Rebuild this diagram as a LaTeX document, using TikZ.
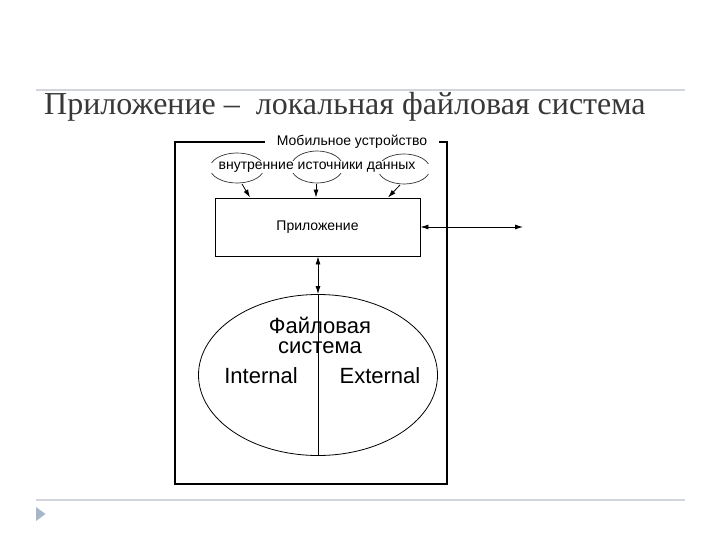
\documentclass[tikz,border=0pt]{standalone}
\usepackage{fontspec}
\setmainfont{Liberation Serif}
\newfontfamily\arial{Liberation Sans}
\usetikzlibrary{arrows.meta,shapes.geometric}
\definecolor{rulegray}{HTML}{D2D5D9}
\definecolor{titlegray}{HTML}{383838}
\definecolor{bullet}{HTML}{A7B6C8}
\tikzset{
  lbl/.style={font=\arial\fontsize{14}{16}\selectfont, inner sep=1pt},
  big/.style={font=\arial\fontsize{22}{20}\selectfont, inner sep=1pt},
  conn/.style={line width=0.8pt, -{Latex[length=8pt,width=5pt]}},
  dconn/.style={line width=0.8pt, {Latex[length=8pt,width=5pt]}-{Latex[length=8pt,width=5pt]}},
  arcline/.style={line width=0.7pt, draw=black!80},
}
\begin{document}
\begin{tikzpicture}[x=1pt,y=-1pt]
\useasboundingbox (0,0) rectangle (720,540);
% slide decorations
\draw[rulegray, line width=1.6pt] (36,90) -- (685,90);
\draw[rulegray, line width=1.6pt] (36,500) -- (685,500);
\fill[bullet] (36,507) -- (45.5,514) -- (36,521) -- cycle;
\node[anchor=base west, inner sep=0pt, text=titlegray, font=\fontsize{32}{34}\selectfont] (title) at (44,115) {Приложение –\ \ локальная файловая система};
% outer device frame
\draw[line width=1.1pt] (175,142) rectangle (447,484);
\node[lbl, fill=white, inner xsep=12pt] (dev) at (352,142) {Мобильное устройство};
% data sources
\coordinate (e1) at (237,168);
\coordinate (e2) at (317,167);
\coordinate (e3) at (404,169);
\draw[arcline] (e1) ++(200:27 and 15) arc[start angle=200,end angle=340,x radius=27,y radius=15];
\draw[arcline] (e1) ++(20:27 and 15) arc[start angle=20,end angle=160,x radius=27,y radius=15];
\draw[arcline] (e2) ++(200:26 and 16) arc[start angle=200,end angle=340,x radius=26,y radius=16];
\draw[arcline] (e2) ++(20:26 and 16) arc[start angle=20,end angle=160,x radius=26,y radius=16];
\draw[arcline] (e3) ++(200:26 and 15) arc[start angle=200,end angle=340,x radius=26,y radius=15];
\draw[arcline] (e3) ++(20:26 and 15) arc[start angle=20,end angle=160,x radius=26,y radius=15];
\node[lbl, fill=white] (src) at (317,167) {внутренние источники данных};
% application box
\node[draw, line width=0.9pt, minimum width=205pt, minimum height=58pt, lbl] (app) at (317.5,227) {Приложение};
\coordinate (s1) at (242,184);
\coordinate (s2) at (316,184);
\coordinate (s3) at (400,185);
\draw[conn] (s1) -- (app.north -| 250,0);
\draw[conn] (s2) -- (app.north -| 316,0);
\draw[conn] (s3) -- (app.north -| 388,0);
% external link
\coordinate (ext) at (523,227);
\draw[dconn] (app.east) -- (ext);
% file system
\node[ellipse, draw, line width=0.8pt, minimum width=239pt, minimum height=161pt] (fs) at (318,375) {};
\draw[dconn] (app.south -| fs.north) -- (fs.north);
\draw[line width=0.8pt] (fs.north) -- (fs.south);
\node[big, align=center] (fst) at (320,335) {Файловая\\система};
\node[big] (int) at (261,376) {Internal};
\node[big] (extn) at (380,376) {External};
\end{tikzpicture}
\end{document}
